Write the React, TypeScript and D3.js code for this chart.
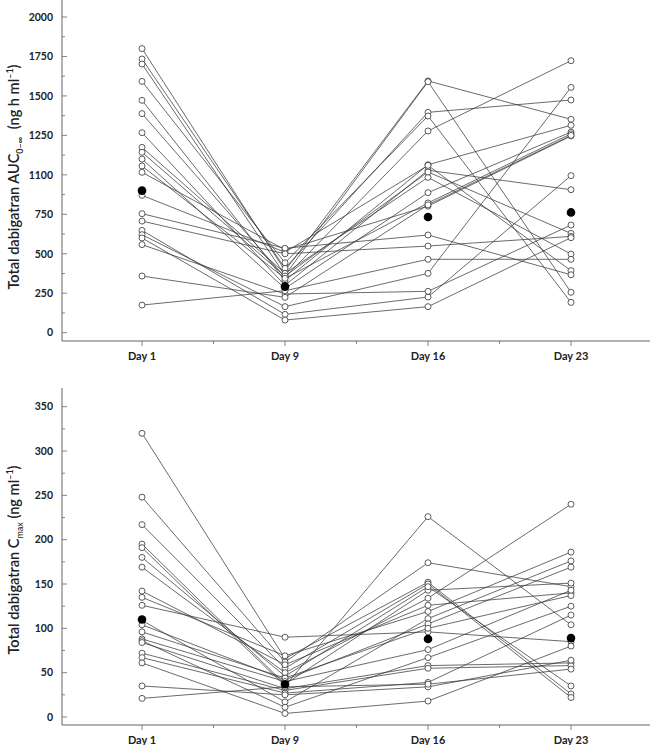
import React from "react";
import * as d3 from "d3";

const days = ["Day 1", "Day 9", "Day 16", "Day 23"];

// Total dabigatran AUC (ng h/ml), index = subject
const aucDay1 = [1800, 1734, 1702, 1592, 1472, 1388, 1267, 1174, 1143, 1100, 1056, 1016, 870, 754, 707, 648, 621, 600, 558, 359, 175];
const aucDay9 = [393, 408, 365, 443, 330, 350, 300, 376, 359, 280, 344, 525, 510, 535, 500, 116, 165, 80, 245, 224, 266];
const aucDay16 = [1595, 1396, 1590, 1373, 1064, 1278, 1029, 984, 1018, 887, 822, 802, 1060, 619, 549, 226, 376, 165, 262, 810, 465];
const aucDay23 = [1352, 1474, 256, 192, 1314, 1723, 906, 498, 629, 1271, 1260, 1246, 393, 367, 610, 995, 1554, 602, 682, 1250, 465];
const aucMean = [900, 292, 733, 762];
const aucTicks = [0, 250, 500, 750, 1000, 1250, 1500, 1750, 2000];
const aucTickLabels = ["0", "250", "500", "750", "1100", "1250", "1500", "1750", "2000"];

// Total dabigatran Cmax (ng/ml), index = subject
const cmaxDay1 = [320, 248, 217, 195, 191, 180, 169, 142, 135, 126, 109, 104, 96, 88, 86, 84, 72, 67, 61, 35, 21];
const cmaxDay9 = [66, 62, 55, 37, 35, 46, 50, 59, 69, 90, 17, 42, 44, 40, 11, 32, 30, 27, 4, 25, 34];
const cmaxDay16 = [152, 174, 150, 143, 226, 147, 134, 126, 119, 96, 111, 105, 100, 76, 67, 58, 55, 39, 18, 34, 37];
const cmaxDay23 = [26, 147, 22, 151, 104, 35, 240, 140, 186, 85, 176, 169, 137, 143, 125, 61, 58, 115, 80, 64, 54];
const cmaxMean = [110, 37, 88, 89];
const cmaxTicks = [0, 50, 100, 150, 200, 250, 300, 350];
const cmaxTickLabels = ["0", "50", "100", "150", "200", "250", "300", "350"];

const FONT = "Lato, 'DejaVu Sans', sans-serif";
const AXIS = "#666";
const LINE = "#3a3a3a";

type PanelProps = {
  series: number[][];
  mean: number[];
  ticks: number[];
  tickLabels: string[];
  minorStep: number;
  y0: number; // pixel of value 0
  yTopVal: number;
  yTopPx: number;
  axisTop: number;
  axisBottom: number;
  title: React.ReactNode;
  titleY: number;
};

function Panel(p: PanelProps) {
  const x = d3.scaleLinear().domain([0, 3]).range([142, 571]);
  const y = d3.scaleLinear().domain([0, p.yTopVal]).range([p.y0, p.yTopPx]);
  const axisX = 62;
  const nSubj = p.series[0].length;
  const subjects = d3.range(nSubj).map((i) => p.series.map((s) => s[i]));
  const line = d3
    .line<number>()
    .x((_, i) => x(i))
    .y((v) => y(v));
  const maxV = y.invert(p.axisTop);
  const minor = d3
    .range(p.minorStep, maxV, p.minorStep * 2)
    .filter((v) => y(v) > p.axisTop + 1);
  const xMinor = [0.5, 1.5, 2.5];
  return (
    <g>
      {/* axes */}
      <line x1={axisX} x2={axisX} y1={p.axisTop} y2={p.axisBottom} stroke={AXIS} strokeWidth={1} />
      <line x1={axisX} x2={650} y1={p.axisBottom} y2={p.axisBottom} stroke={AXIS} strokeWidth={1} />
      {p.ticks.map((t, i) => (
        <g key={"yt" + t}>
          <line x1={axisX} x2={axisX + 5} y1={y(t)} y2={y(t)} stroke={AXIS} strokeWidth={0.8} />
          <text
            x={53}
            y={y(t)}
            dy="0.36em"
            textAnchor="end"
            fontFamily={FONT}
            fontWeight={700}
            fontSize={10.5}
            fill="#222"
          >
            {p.tickLabels[i]}
          </text>
        </g>
      ))}
      {minor.map((t) => (
        <line key={"ym" + t} x1={axisX} x2={axisX + 3} y1={y(t)} y2={y(t)} stroke={AXIS} strokeWidth={0.8} />
      ))}
      {days.map((d, i) => (
        <g key={d}>
          <line x1={x(i)} x2={x(i)} y1={p.axisBottom} y2={p.axisBottom + 5} stroke={AXIS} strokeWidth={0.8} />
          <text
            x={x(i)}
            y={p.axisBottom + 19}
            textAnchor="middle"
            fontFamily={FONT}
            fontWeight={700}
            fontSize={11}
            fill="#222"
          >
            {d}
          </text>
        </g>
      ))}
      {xMinor.map((m) => (
        <line key={"xm" + m} x1={x(m)} x2={x(m)} y1={p.axisBottom} y2={p.axisBottom + 3} stroke={AXIS} strokeWidth={0.8} />
      ))}
      {/* subject lines */}
      {subjects.map((s, i) => (
        <path key={"l" + i} d={line(s) || ""} fill="none" stroke={LINE} strokeWidth={0.75} />
      ))}
      {subjects.map((s, i) =>
        s.map((v, j) => (
          <circle key={"c" + i + "-" + j} cx={x(j)} cy={y(v)} r={3} fill="#fff" stroke="#333" strokeWidth={0.8} />
        ))
      )}
      {p.mean.map((v, j) => (
        <circle key={"m" + j} cx={x(j)} cy={y(v)} r={4.3} fill="#000" />
      ))}
      <text
        transform={`translate(19, ${p.titleY}) rotate(-90)`}
        textAnchor="middle"
        fontFamily={FONT}
        fontSize={14.5}
        fontWeight={600}
        fill="#222"
      >
        {p.title}
      </text>
    </g>
  );
}

export default function App() {
  return (
    <svg
      width={650}
      height={745}
      style={{ position: "absolute", left: 0, top: 0, background: "#fff" }}
    >
      <rect width={650} height={745} fill="#fff" />
      <Panel
        series={[aucDay1, aucDay9, aucDay16, aucDay23]}
        mean={aucMean}
        ticks={aucTicks}
        tickLabels={aucTickLabels}
        minorStep={125}
        y0={332.7}
        yTopVal={2000}
        yTopPx={17}
        axisTop={0}
        axisBottom={341}
        titleY={177}
        title={
          <>
            <tspan>Total dabigatran AUC</tspan>
            <tspan fontSize={9} dy={4}>0–∞</tspan>
            <tspan dy={-4}>{"\u00a0\u00a0(ng h ml"}</tspan>
            <tspan fontSize={9} dy={-6}>–1</tspan>
            <tspan dy={6}>)</tspan>
          </>
        }
      />
      <Panel
        series={[cmaxDay1, cmaxDay9, cmaxDay16, cmaxDay23]}
        mean={cmaxMean}
        ticks={cmaxTicks}
        tickLabels={cmaxTickLabels}
        minorStep={25}
        y0={717}
        yTopVal={350}
        yTopPx={406.7}
        axisTop={388}
        axisBottom={725}
        titleY={560}
        title={
          <>
            <tspan>Total dabigatran C</tspan>
            <tspan fontSize={9} dy={4} fontWeight={400}>max</tspan>
            <tspan dy={-4}>{"\u00a0(ng ml"}</tspan>
            <tspan fontSize={9} dy={-6}>–1</tspan>
            <tspan dy={6}>)</tspan>
          </>
        }
      />
    </svg>
  );
}
